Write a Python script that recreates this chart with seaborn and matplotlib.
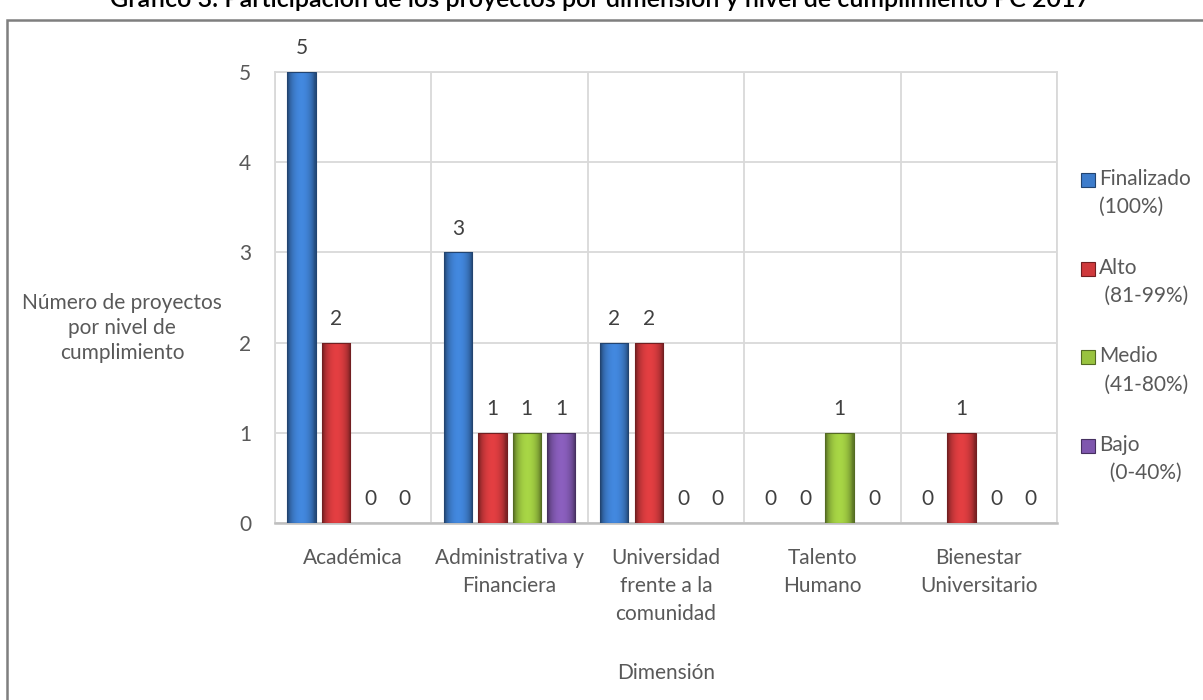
import pandas as pd
import matplotlib.pyplot as plt
import matplotlib.patches as mpatches
import seaborn as sns
import numpy as np

sns.set_theme(style="white")
plt.rcParams['font.family'] = ['Lato', 'DejaVu Sans']

# Datos
dimensiones = ['Académica', 'Administrativa y\nFinanciera', 'Universidad\nfrente a la\ncomunidad',
               'Talento\nHumano', 'Bienestar\nUniversitario']
niveles = ['Finalizado\n(100%)', 'Alto\n (81-99%)', 'Medio\n (41-80%)', 'Bajo\n  (0-40%)']
finalizado = [5, 3, 2, 0, 0]
alto = [2, 1, 2, 0, 1]
medio = [0, 1, 0, 1, 0]
bajo = [0, 1, 0, 0, 0]
colores = ['#3d7ccb', '#cf393c', '#99c33f', '#7f57ae']

rows = []
for nivel, vals in zip(niveles, [finalizado, alto, medio, bajo]):
    for dim, v in zip(dimensiones, vals):
        rows.append({'Dimensión': dim, 'Nivel': nivel, 'Proyectos': v})
df = pd.DataFrame(rows)

gris = '#595959'
fs = 15
fig = plt.figure(figsize=(12.03, 7), dpi=100)
ax = fig.add_axes([275 / 1203, 1 - 523 / 700, (1057 - 275) / 1203, (523 - 72) / 700])

sns.barplot(data=df, x='Dimensión', y='Proyectos', hue='Nivel', order=dimensiones, hue_order=niveles,
            palette=colores, width=0.88, gap=0.18, ax=ax, legend=False, errorbar=None,
            edgecolor='none', zorder=3)

# degradado horizontal en cada barra
for patch, col in zip(ax.patches, np.repeat(colores, len(dimensiones))):
    h = patch.get_height()
    if h <= 0:
        continue
    x0, w = patch.get_x(), patch.get_width()
    base = np.array(plt.matplotlib.colors.to_rgb(col))
    t = np.linspace(0, 1, 64)
    f = 0.62 + 0.48 * np.sin(np.pi * np.clip(t * 1.1 - 0.05, 0, 1)) ** 0.6
    grad = np.clip(base[None, :] * f[:, None], 0, 1)[None, :, :]
    im = ax.imshow(grad, extent=[x0, x0 + w, 0, h], aspect='auto', zorder=4, interpolation='bicubic')
    im.set_clip_path(patch)
    ax.add_patch(mpatches.Rectangle((x0, 0), w, h, fill=False,
                                    edgecolor=np.clip(base * 0.55, 0, 1), lw=0.8, zorder=5))

# etiquetas de valor
for i, nivel in enumerate(niveles):
    sub = df[df['Nivel'] == nivel]
    for j, v in enumerate(sub['Proyectos']):
        xc = j + (i - 1.5) * 0.22
        ax.annotate(str(v), (xc, v), xytext=(0, 17), textcoords='offset points',
                    ha='center', va='center', fontsize=fs, color='#404040', zorder=6)

ax.set_xlim(-0.5, 4.5)
ax.set_ylim(0, 5)
ax.set_yticks(range(0, 6))
ax.set_xticks(range(5))
ax.set_xticks(np.arange(-0.5, 5, 1), minor=True)
ax.grid(axis='y', color='#d9d9d9', lw=1.3, zorder=0)
ax.grid(axis='x', which='minor', color='#d9d9d9', lw=1.3, zorder=0)
ax.tick_params(axis='both', which='both', length=0)
ax.tick_params(axis='y', pad=17, labelsize=fs, labelcolor=gris)
ax.tick_params(axis='x', pad=18, labelsize=fs, labelcolor=gris)
for lbl in ax.get_xticklabels():
    lbl.set_linespacing(1.5)
for s in ax.spines.values():
    s.set_color('#d9d9d9')
    s.set_linewidth(1.3)
ax.spines['bottom'].set_color('#bfbfbf')
ax.spines['bottom'].set_linewidth(1.8)
ax.set_xlabel('')
ax.set_ylabel('')

fig.text(666 / 1203, 1 - 673 / 700, 'Dimensión', ha='center', va='center', fontsize=fs, color=gris)
fig.text(122 / 1203, 1 - 328 / 700, 'Número de proyectos\npor nivel de\ncumplimiento',
         ha='center', va='center', fontsize=fs, color=gris, linespacing=1.3)

# leyenda
for i, (nivel, col) in enumerate(zip(niveles, colores)):
    yc = 180 + 88.7 * i
    base = np.array(plt.matplotlib.colors.to_rgb(col))
    fig.patches.append(mpatches.Rectangle((1081 / 1203, 1 - (yc + 7) / 700), 14 / 1203, 14 / 700,
                                          facecolor=col, edgecolor=np.clip(base * 0.55, 0, 1), lw=0.8,
                                          transform=fig.transFigure, figure=fig))
    fig.text(1099 / 1203, 1 - (yc - 11) / 700, nivel, ha='left', va='top', fontsize=fs,
             color=gris, linespacing=1.5)

# marco exterior y título recortado
fig.patches.append(mpatches.Rectangle((7 / 1203, -0.05), 1.2, 1 - 20 / 700 + 0.05, fill=False,
                                      edgecolor='#7f7f7f', lw=1.8, transform=fig.transFigure, figure=fig))
fig.text(600 / 1203, 1 - 7 / 700,
         'Gráfico 3. Participación de los proyectos por dimensión y nivel de cumplimiento PC 2017',
         ha='center', va='baseline', fontsize=18, color='black', fontweight='semibold')

plt.savefig('out.png', dpi=100)
plt.close()
